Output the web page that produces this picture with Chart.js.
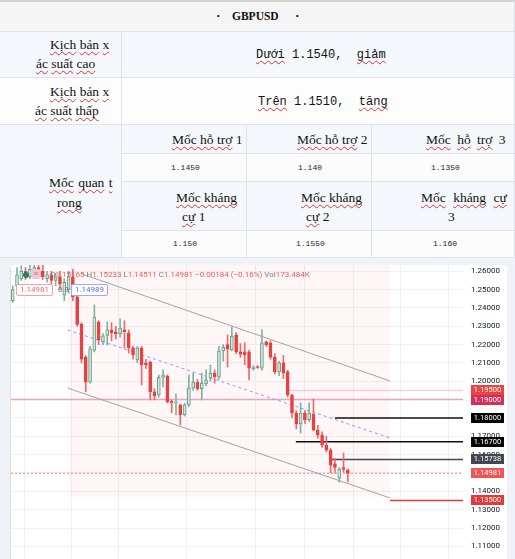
<!DOCTYPE html>
<html>
<head>
<meta charset="utf-8">
<script src="https://cdn.jsdelivr.net/npm/chart.js@4.4.1/dist/chart.umd.min.js"></script>
<style>
html, body { margin: 0; padding: 0; }
body { width: 515px; height: 559px; position: relative; overflow: hidden; background: #eff2f7; font-family: "Liberation Serif", serif; }
.c { position: absolute; box-sizing: border-box; border-right: 1px solid #dfe3e9; border-bottom: 1px solid #dfe3e9; }
.t { position: absolute; white-space: nowrap; font-size: 13.5px; line-height: 16px; color: #111; }
.w { text-decoration: underline wavy #e0322f; text-decoration-thickness: 1px; text-underline-offset: 2px; text-decoration-skip-ink: none; }
.m { font-family: "Liberation Mono", monospace; font-size: 12px; }
.n { position: absolute; white-space: nowrap; font-family: "Liberation Mono", monospace; font-size: 8px; line-height: 10px; color: #222; }
#panel { position: absolute; left: 11px; top: 265px; width: 496px; height: 294px; background: #fff; border-radius: 3px 3px 0 0; }
#edge { position: absolute; left: 10px; top: 268px; width: 1px; height: 291px; background: #dcdfe7; }
.lg { position: absolute; white-space: nowrap; font-family: Roboto, sans-serif; font-size: 8px; line-height: 10px; color: #787b86; }
.r { color: #ef5a5a; }
.box { position: absolute; box-sizing: border-box; height: 12px; width: 37px; border-radius: 2px; font-family: Roboto, sans-serif; font-size: 8px; line-height: 10px; text-align: center; background: #fff; }
</style>
</head>
<body>

<!-- table -->
<div class="c" style="left:0;top:0;width:515px;height:32px;background:#f5f5f5;border-top:2px solid #d3d3d3;"></div>
<div class="c" style="left:0;top:32px;width:122px;height:46px;background:#f4f8fc;"></div>
<div class="c" style="left:122px;top:32px;width:393px;height:46px;background:#f4f8fc;"></div>
<div class="c" style="left:0;top:78px;width:122px;height:47px;background:#fdfdfd;"></div>
<div class="c" style="left:122px;top:78px;width:393px;height:47px;background:#fdfdfd;"></div>
<div class="c" style="left:0;top:125px;width:122px;height:133px;background:#f4f8fc;"></div>
<div class="c" style="left:122px;top:125px;width:125px;height:29px;background:#f4f8fc;"></div>
<div class="c" style="left:247px;top:125px;width:125px;height:29px;background:#f4f8fc;"></div>
<div class="c" style="left:372px;top:125px;width:143px;height:29px;background:#f4f8fc;"></div>
<div class="c" style="left:122px;top:154px;width:125px;height:28px;background:#fcfcfc;"></div>
<div class="c" style="left:247px;top:154px;width:125px;height:28px;background:#fcfcfc;"></div>
<div class="c" style="left:372px;top:154px;width:143px;height:28px;background:#fcfcfc;"></div>
<div class="c" style="left:122px;top:182px;width:125px;height:49px;background:#f4f8fc;"></div>
<div class="c" style="left:247px;top:182px;width:125px;height:49px;background:#f4f8fc;"></div>
<div class="c" style="left:372px;top:182px;width:143px;height:49px;background:#f4f8fc;"></div>
<div class="c" style="left:122px;top:231px;width:125px;height:27px;background:#fcfcfc;"></div>
<div class="c" style="left:247px;top:231px;width:125px;height:27px;background:#fcfcfc;"></div>
<div class="c" style="left:372px;top:231px;width:143px;height:27px;background:#fcfcfc;"></div>

<span class="t" style="left:216px;top:8px;font-weight:bold;">·</span>
<span class="t" style="left:232px;top:8px;font-weight:bold;font-size:11.5px;">GBPUSD</span>
<span class="t" style="left:295px;top:8px;font-weight:bold;">·</span>

<span class="t" style="left:50px;top:37px"><span class="w">Kịch</span> <span class="w">bản</span> <span class="w">x</span></span>
<span class="t" style="left:36px;top:56px"><span class="w">ác</span> <span class="w">suất</span> <span class="w">cao</span></span>
<span class="t m" style="left:256px;top:47px"><span class="w">Dưới</span> 1.1540,&nbsp; <span class="w">giảm</span></span>

<span class="t" style="left:50px;top:84px"><span class="w">Kịch</span> <span class="w">bản</span> <span class="w">x</span></span>
<span class="t" style="left:35px;top:103px"><span class="w">ác</span> <span class="w">suất</span> <span class="w">thấp</span></span>
<span class="t m" style="left:258px;top:94px"><span class="w">Trên</span> 1.1510,&nbsp; <span class="w">tăng</span></span>

<span class="t" style="left:172px;top:132px"><span class="w">Mốc hỗ trợ</span> 1</span>
<span class="t" style="left:297px;top:132px"><span class="w">Mốc hỗ trợ</span> 2</span>
<span class="t" style="left:426px;top:132px;word-spacing:3px"><span class="w">Mốc</span> <span class="w">hỗ</span> <span class="w">trợ</span> 3</span>

<span class="n" style="left:171px;top:163px">1.1450</span>
<span class="n" style="left:298px;top:163px">1.140</span>
<span class="n" style="left:431px;top:163px">1.1350</span>

<span class="t" style="left:49px;top:175px;word-spacing:1px"><span class="w">Mốc</span> <span class="w">quan</span> <span class="w">t</span></span>
<span class="t" style="left:57px;top:195px"><span class="w">rong</span></span>

<span class="t" style="left:176px;top:190px"><span class="w">Mốc kháng</span></span>
<span class="t" style="left:182px;top:209px"><span class="w">cự</span> 1</span>
<span class="t" style="left:301px;top:190px"><span class="w">Mốc kháng</span></span>
<span class="t" style="left:306px;top:209px"><span class="w">cự</span> 2</span>
<span class="t" style="left:421px;top:190px;word-spacing:4px"><span class="w">Mốc</span> <span class="w">kháng</span> <span class="w">cự</span></span>
<span class="t" style="left:448px;top:209px">3</span>

<span class="n" style="left:173px;top:239px">1.150</span>
<span class="n" style="left:296px;top:239px">1.1550</span>
<span class="n" style="left:433px;top:239px">1.160</span>

<!-- chart -->
<div id="edge"></div>
<div id="panel"><canvas id="chart"></canvas></div>

<div style="position:absolute;left:23px;top:272px;width:6px;height:6px;border-radius:3px;background:#2e7d5b;"></div>
<div style="position:absolute;left:31px;top:269px;width:10px;height:10px;border-radius:3px;background:#f3c6d6;color:#c05a7a;font:8px/10px Roboto;text-align:center;">≡</div>
<div class="lg" style="left:50px;top:270px"><span>O</span><span class="r">1.15165</span> <span>H</span><span class="r">1.15233</span> <span>L</span><span class="r">1.14511</span> <span>C</span><span class="r">1.14981</span> <span class="r">−0.00184 (−0.16%)</span> <span>Vol</span><span class="r">173.484K</span></div>
<div class="box" style="left:16px;top:284px;border:1px solid #f0a3a3;color:#e86a6a;">1.14981</div>
<div class="lg" style="left:58px;top:285px;color:#777;">0.8</div>
<div class="box" style="left:71px;top:284px;border:1px solid #9eaaf2;color:#5b6ee8;">1.14989</div>

<script>
// daily candles, oldest first
const opens  = [1.2440, 1.2520, 1.2560, 1.2600, 1.2570, 1.2600, 1.2620, 1.2600, 1.2560, 1.2580,
                1.2550, 1.2570, 1.2470, 1.2500, 1.2570, 1.2460, 1.2310, 1.2130, 1.1995, 1.2170,
                1.2324, 1.2215, 1.2250, 1.2280, 1.2270, 1.2260, 1.2280, 1.2264, 1.2182, 1.2116,
                1.2182, 1.2100, 1.2105, 1.1942, 1.1925, 1.2023, 1.2029, 1.1890, 1.1880, 1.1871,
                1.1816, 1.1871, 1.1963, 1.1996, 1.1960, 1.1985, 1.2018, 1.2045, 1.2023, 1.2165,
                1.2200, 1.2171, 1.2253, 1.2160, 1.2160, 1.2160, 1.2068, 1.2080, 1.2072, 1.2215,
                1.2209, 1.2132, 1.2051, 1.2100, 1.2051, 1.1925, 1.1827, 1.1767, 1.1827, 1.1790,
                1.1820, 1.1734, 1.1707, 1.1652, 1.1625, 1.1550, 1.1472, 1.1530, 1.15165];
const highs  = [1.2520, 1.2620, 1.2630, 1.2620, 1.2640, 1.2650, 1.2650, 1.2640, 1.2600, 1.2600,
                1.2590, 1.2600, 1.2560, 1.2600, 1.2610, 1.2470, 1.2320, 1.2140, 1.2190, 1.2416,
                1.2330, 1.2260, 1.2324, 1.2320, 1.2300, 1.2340, 1.2330, 1.2280, 1.2190, 1.2190,
                1.2190, 1.2120, 1.2110, 1.1960, 1.2034, 1.2062, 1.2035, 1.1898, 1.1930, 1.1875,
                1.1880, 1.2034, 1.2045, 1.2010, 1.2045, 1.2062, 1.2089, 1.2062, 1.2190, 1.2200,
                1.2253, 1.2296, 1.2265, 1.2205, 1.2210, 1.2170, 1.2085, 1.2085, 1.2280, 1.2220,
                1.2220, 1.2150, 1.2110, 1.2140, 1.2060, 1.1930, 1.1840, 1.1882, 1.1840, 1.1882,
                1.1904, 1.1760, 1.1725, 1.1700, 1.1635, 1.1580, 1.1530, 1.1609, 1.15233];
const lows   = [1.2430, 1.2510, 1.2550, 1.2555, 1.2560, 1.2580, 1.2575, 1.2555, 1.2540, 1.2530,
                1.2520, 1.2500, 1.2440, 1.2480, 1.2440, 1.2300, 1.2100, 1.1942, 1.1990, 1.2160,
                1.2200, 1.2200, 1.2198, 1.2220, 1.2230, 1.2240, 1.2180, 1.2154, 1.2120, 1.2100,
                1.1980, 1.2070, 1.1898, 1.1898, 1.1914, 1.1969, 1.1882, 1.1827, 1.1816, 1.1762,
                1.1810, 1.1860, 1.1950, 1.1950, 1.1898, 1.1975, 1.2000, 1.1990, 1.2010, 1.2110,
                1.2078, 1.2165, 1.2150, 1.2130, 1.2090, 1.2007, 1.2060, 1.2070, 1.2060, 1.2190,
                1.2120, 1.2040, 1.2030, 1.2015, 1.1915, 1.1800, 1.1740, 1.1718, 1.1770, 1.1780,
                1.1730, 1.1690, 1.1640, 1.1615, 1.1500, 1.1500, 1.1450, 1.1505, 1.14511];
const closes = [1.2500, 1.2580, 1.2600, 1.2570, 1.2610, 1.2620, 1.2590, 1.2570, 1.2580, 1.2550,
                1.2570, 1.2530, 1.2540, 1.2570, 1.2460, 1.2310, 1.2120, 1.1995, 1.2177, 1.2350,
                1.2225, 1.2248, 1.2280, 1.2265, 1.2260, 1.2290, 1.2270, 1.2182, 1.2145, 1.2182,
                1.2089, 1.2090, 1.1942, 1.1920, 1.2023, 1.2035, 1.1887, 1.1885, 1.1887, 1.1816,
                1.1871, 1.1963, 1.1996, 1.1960, 1.1990, 1.2007, 1.2045, 1.2025, 1.2165, 1.2185,
                1.2175, 1.2247, 1.2160, 1.2148, 1.2145, 1.2072, 1.2078, 1.2075, 1.2209, 1.2200,
                1.2132, 1.2051, 1.2100, 1.2045, 1.1925, 1.1827, 1.1767, 1.1827, 1.1790, 1.1827,
                1.1734, 1.1707, 1.1652, 1.1625, 1.1543, 1.1530, 1.1521, 1.1520, 1.14981];

// x positions (candle index) of the vertical grid lines
const gridIdx = [8.15, 19.1, 30.0, 51.0, 61.9, 73.8, 84.7, 95.9];

// drawings: descending channel, [index, price]
const upperLine = [[16.1, 1.2585], [87.8, 1.2002]];
const lowerLine = [[12.8, 1.1963], [87.8, 1.1364]];
const midLine   = [[12.8, 1.2280], [87.8, 1.1691]];
const zoneX     = [12.8, 87.8];
const zoneLow   = 1.137;

// horizontal levels
const levels      = [1.195, 1.19, 1.18, 1.167, 1.15738, 1.14981, 1.135];
const levelStart  = [63.8, -0.4, 75.0, 65.9, 74.3, -0.4, 87.8];
const levelColors = ['#f7c3cd', '#f0a3b7', '#111111', '#111111', '#434651', '#f48a8a', '#e53935'];
const levelWidth  = [1, 1.5, 1.5, 1.5, 1.5, 1, 1.5];
const levelDash   = [[], [], [], [], [], [2, 2], []];
const boxColors   = ['#e9453f', '#d42e5b', '#000000', '#000000', '#434651', '#f05454', '#e53935'];

const xMin = -0.4, xMax = 104.8;
const yMin = 1.1031, yMax = 1.2634;

const up = closes.map((c, i) => c >= opens[i]);

function seg(pts, color, width, dash, order) {
    return {
        type: 'line',
        data: pts.map(p => ({ x: p[0], y: p[1] })),
        borderColor: color,
        borderWidth: width,
        borderDash: dash || [],
        pointRadius: 0,
        fill: false,
        tension: 0,
        order: order
    };
}

const datasets = [];

// pink zone behind the channel
datasets.push({
    type: 'line',
    data: [{ x: zoneX[0], y: zoneLow }, { x: zoneX[1], y: zoneLow }],
    borderWidth: 0,
    pointRadius: 0,
    fill: 'end',
    backgroundColor: 'rgba(242, 54, 69, 0.045)',
    order: 20
});

levels.forEach((v, i) => {
    datasets.push(seg([[levelStart[i], v], [xMax, v]], levelColors[i], levelWidth[i], levelDash[i], 6));
});

datasets.push(seg(upperLine, '#a3a3a3', 1, [], 5));
datasets.push(seg(lowerLine, '#a3a3a3', 1, [], 5));
datasets.push(seg(midLine, '#8a9cf0', 1, [3, 3], 5));

// candle wicks
datasets.push({
    type: 'bar',
    data: opens.map((o, i) => ({ x: i, y: [lows[i], highs[i]] })),
    backgroundColor: up.map(u => u ? '#7fb39f' : '#ef6b6b'),
    barThickness: 1,
    grouped: false,
    order: 2
});
// candle bodies
datasets.push({
    type: 'bar',
    data: opens.map((o, i) => ({ x: i, y: [o, closes[i]] })),
    backgroundColor: up.map(u => u ? '#d3e6dc' : '#e8413f'),
    borderColor: up.map(u => u ? '#5f9f88' : '#e8413f'),
    borderWidth: 1,
    borderSkipped: false,
    barThickness: 3,
    minBarLength: 1,
    grouped: false,
    order: 1
});

const levelBoxes = {
    id: 'levelBoxes',
    afterDraw(chart) {
        const { ctx, chartArea, scales } = chart;
        ctx.save();
        ctx.font = '7.5px Roboto';
        ctx.textBaseline = 'middle';
        ctx.textAlign = 'center';
        levels.forEach((v, i) => {
            const py = Math.round(scales.y.getPixelForValue(v));
            ctx.fillStyle = boxColors[i];
            ctx.fillRect(chartArea.right + 8, py - 5, 33, 10);
            ctx.fillStyle = '#ffffff';
            ctx.fillText(v.toFixed(5), chartArea.right + 24.5, py + 0.5);
        });
        ctx.restore();
    }
};

new Chart(document.getElementById('chart'), {
    type: 'bar',
    data: { datasets: datasets },
    options: {
        responsive: true,
        maintainAspectRatio: false,
        animation: false,
        layout: { padding: 0 },
        plugins: {
            legend: { display: false },
            tooltip: { enabled: false }
        },
        scales: {
            x: {
                type: 'linear',
                min: xMin,
                max: xMax,
                offset: false,
                afterBuildTicks: s => { s.ticks = gridIdx.map(v => ({ value: v })); },
                ticks: { display: false },
                grid: { color: '#f0f1f4', drawTicks: false },
                border: { display: false },
                afterFit: s => { s.paddingLeft = 0; s.paddingRight = 0; s.height = 0; }
            },
            y: {
                position: 'right',
                min: yMin,
                max: yMax,
                ticks: {
                    stepSize: 0.01,
                    includeBounds: false,
                    padding: 8,
                    color: '#131722',
                    font: { family: 'Roboto', size: 8 },
                    callback: v => v.toFixed(5)
                },
                grid: { color: '#f0f1f4', drawTicks: false },
                border: { display: false },
                afterFit: s => { s.width = 44; s.paddingTop = 0; s.paddingBottom = 0; }
            }
        }
    },
    plugins: [levelBoxes]
});
</script>
</body>
</html>
